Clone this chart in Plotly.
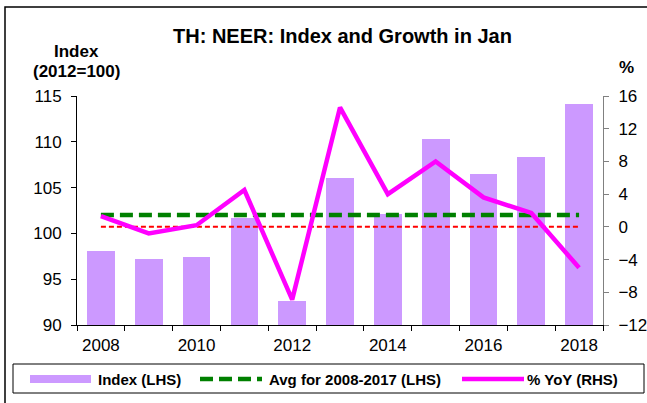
import plotly.graph_objects as go

years = [2008, 2009, 2010, 2011, 2012, 2013, 2014, 2015, 2016, 2017, 2018]
index_vals = [98.1, 97.2, 97.4, 101.7, 92.6, 106.1, 102.1, 110.3, 106.5, 108.3, 114.1]
yoy_vals = [1.3, -0.8, 0.2, 4.5, -8.9, 14.6, 4.0, 8.0, 3.6, 1.7, -5.0]
avg_val = 102.0
zero_ref = 0
x_ticks = [2008, 2010, 2012, 2014, 2016, 2018]
left_ticks = [90, 95, 100, 105, 110, 115]
right_ticks = [-12, -8, -4, 0, 4, 8, 12, 16]

W, H = 647, 403
L, R, T, B = 77, 603, 96, 325
FONT = "Liberation Sans, Arial, sans-serif"


def px(x):
    return (x - L) / (R - L)


def py(y):
    return (B - y) / (B - T)


fig = go.Figure()
fig.add_trace(go.Bar(x=years, y=index_vals, marker=dict(color="#CC99FF", line=dict(width=0)),
                     width=0.58, name="Index (LHS)", showlegend=False))
fig.add_trace(go.Scatter(x=years, y=[avg_val] * len(years), mode="lines",
                         line=dict(color="#008000", width=4.5, dash="13px,6px"),
                         name="Avg for 2008-2017 (LHS)", showlegend=False))
fig.add_trace(go.Scatter(x=years, y=[zero_ref] * len(years), mode="lines", yaxis="y2",
                         line=dict(color="#FF0000", width=2, dash="5px,3px"),
                         showlegend=False, hoverinfo="skip"))
fig.add_trace(go.Scatter(x=years, y=yoy_vals, mode="lines", yaxis="y2",
                         line=dict(color="#FF00FF", width=4.5),
                         name="% YoY (RHS)", showlegend=False))

shapes = []
# outer border
shapes.append(dict(type="rect", xref="paper", yref="paper",
                   x0=px(5), x1=px(652), y0=py(7), y1=py(410),
                   line=dict(color="black", width=1.5), fillcolor="rgba(0,0,0,0)", layer="below"))
# legend box
shapes.append(dict(type="rect", xref="paper", yref="paper",
                   x0=px(13), x1=px(644), y0=py(364), y1=py(393),
                   line=dict(color="black", width=1), fillcolor="white"))
shapes.append(dict(type="rect", xref="paper", yref="paper",
                   x0=px(30), x1=px(91), y0=py(375), y1=py(383),
                   line=dict(width=0), fillcolor="#CC99FF"))
shapes.append(dict(type="line", xref="paper", yref="paper",
                   x0=px(200), x1=px(262), y0=py(379), y1=py(379),
                   line=dict(color="#008000", width=4.5, dash="13px,6px")))
shapes.append(dict(type="line", xref="paper", yref="paper",
                   x0=px(462), x1=px(524), y0=py(379), y1=py(379),
                   line=dict(color="#FF00FF", width=4.5)))

annotations = []


def txt(text, x, y, size, xanchor="center", bold=True):
    annotations.append(dict(text=f"<b>{text}</b>" if bold else text, xref="paper", yref="paper",
                            x=px(x), y=py(y), xanchor=xanchor, yanchor="middle", showarrow=False,
                            font=dict(family=FONT, size=size, color="black")))


txt("TH: NEER: Index and Growth in Jan", 342, 36, 20)
txt("Index", 76, 51, 17)
txt("(2012=100)", 76, 71, 17)
txt("%", 626, 68, 17)
txt("Index (LHS)", 96, 379, 15, "left")
txt("Avg for 2008-2017 (LHS)", 267, 379, 15, "left")
txt("% YoY (RHS)", 525, 379, 15, "left")

fig.update_layout(
    template="none",
    width=W, height=H,
    margin=dict(l=L, r=W - R, t=T, b=H - B, pad=0, autoexpand=False),
    paper_bgcolor="white", plot_bgcolor="white",
    showlegend=False,
    font=dict(family=FONT, size=17, color="black"),
    bargap=0,
    shapes=shapes, annotations=annotations,
    xaxis=dict(range=[2007.5, 2018.5], tickmode="array", tickvals=x_ticks, automargin=False,
               ticktext=[str(v) for v in x_ticks], ticks="", showline=True, linecolor="black",
               linewidth=1, showgrid=False, zeroline=False,
               tickfont=dict(size=17), ticklabelstandoff=5,
               minor=dict(tickmode="linear", tick0=2007.5, dtick=1, ticks="outside",
                          ticklen=5, tickcolor="black", tickwidth=1, showgrid=False)),
    yaxis=dict(range=[90, 115], tickmode="array", tickvals=left_ticks, ticks="outside",
               automargin=False,
               ticklen=5, tickcolor="black", showline=True, linecolor="black", linewidth=1,
               showgrid=False, zeroline=False, tickfont=dict(size=17), ticklabelstandoff=6),
    yaxis2=dict(range=[-12, 16], tickmode="array", tickvals=right_ticks, overlaying="y",
                automargin=False,
                side="right", ticks="outside", ticklen=5, tickcolor="#808080", showline=True,
                linecolor="#808080", linewidth=1, showgrid=False, zeroline=False,
                tickfont=dict(size=17), ticklabelstandoff=6),
)

fig.write_html("out.html", config={"displayModeBar": False},
               post_script="document.body.style.margin='0px';document.body.style.overflow='hidden';")
